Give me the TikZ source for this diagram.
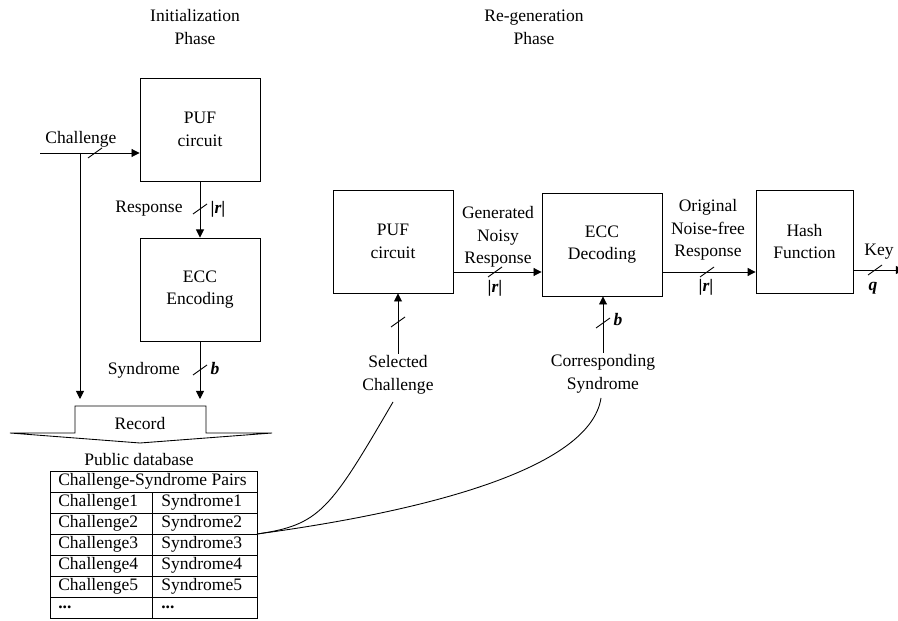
\documentclass[tikz,border=0pt]{standalone}
\usepackage{fontspec}
\setmainfont{Liberation Serif}
\usetikzlibrary{arrows.meta,positioning,calc}
\tikzset{
  unit/.style={draw,line width=0.6pt,minimum width=82.2pt,minimum height=70.6pt,align=center,
               inner sep=2pt},
  flow/.style={line width=0.6pt,-{Triangle[length=5.5pt,width=5.5pt]}},
  wire/.style={line width=0.6pt},
  tag/.style={align=center,inner sep=1pt},
  cell/.style={anchor=west,inner sep=0pt},
}
\newcommand{\buscut}[1]{\draw[wire] (#1) ++(-7,5) -- ++(14,-10);}

\begin{document}
\begin{tikzpicture}[x=0.685pt,y=-0.685pt,font=\fontsize{12}{15.5}\selectfont]
  \useasboundingbox (0,0) rectangle (898,621);
  \node[tag] (ini) at (195,27) {Initialization\\Phase};
  \node[tag] (reg) at (534,27) {Re-generation\\Phase};

  \node[unit] (puf1) at (200,129.5) {PUF\\circuit};
  \node[unit] (enc) at (200,289.5) {ECC\\Encoding};
  \coordinate (chin) at (40,153);
  \coordinate (split) at (80,153);
  \coordinate (recl) at (80,399);
  \coordinate (recr) at (200,399);
  \draw[flow] (chin) -- (chin -| puf1.west);
  \draw[flow] (split) -- (recl);
  \draw[flow] (puf1) -- (enc);
  \draw[flow] (enc) -- (recr);
  \node[tag] (chl) at (81,139) {Challenge};
  \node[tag] (rsp) at (149,209) {Response};
  \node[tag] (rw0) at (218,209) {\textbf{|\textit{r}|}};
  \node[tag] (syn) at (144,370) {Syndrome};
  \node[tag] (bw1) at (215,369) {\textbf{\textit{b}}};
  \buscut{95,153} \buscut{200,209} \buscut{200,370}

  \draw[wire] (75,406) -- (206,406) -- (206,433) -- (272,433) -- (140,443) -- (10,433) -- (75,433) -- cycle;
  \node (rec) at (140,424) {Record};
  \node (pdb) at (139,460) {Public database};

  \draw[wire] (50,471) rectangle (257,618);
  \foreach \y in {492,513,...,597} \draw[wire] (50,\y) -- (257,\y);
  \draw[wire] (152,492) -- (152,618);
  \node[cell] (hdr) at (58,481.5) {Challenge-Syndrome Pairs};
  \foreach \i in {1,...,5} {
    \node[cell] (ch\i) at (58,{492+21*\i-10.5}) {Challenge\i};
    \node[cell] (sy\i) at (161,{492+21*\i-10.5}) {Syndrome\i};
  }
  \node[cell] (chx) at (58,607.5) {\textbf{...}};
  \node[cell] (syx) at (161,607.5) {\textbf{...}};

  \node[unit] (puf2) at (393,241.5) {PUF\\circuit};
  \node[unit] (dec) at (602,244.5) {ECC\\Decoding};
  \node[unit,minimum width=66.4pt] (hash) at (804.5,241.5) {Hash\\Function};
  \coordinate (lvl) at (0,272);
  \coordinate (keyend) at (904,270);
  \draw[flow] (puf2.east |- lvl) -- (dec.west |- lvl);
  \draw[flow] (dec.east |- lvl) -- (hash.west |- lvl);
  \draw[flow] (hash.east |- keyend) -- (keyend);
  \node[tag] (gnr) at (498,237) {Generated\\Noisy\\Response};
  \node[tag] (onr) at (708,230) {Original\\Noise-free\\Response};
  \node[tag] (key) at (879,252) {Key};
  \node[tag] (rw1) at (495,288) {\textbf{|\textit{r}|}};
  \node[tag] (rw2) at (706,287) {\textbf{|\textit{r}|}};
  \node[tag] (qw) at (873,288) {\textbf{\textit{q}}};
  \buscut{495,272} \buscut{707,272} \buscut{875,270}

  \node[tag] (selc) at (398,375) {Selected\\Challenge};
  \node[tag] (corr) at (603,374) {Corresponding\\Syndrome};
  \draw[flow] (selc.north) -- (selc.north |- puf2.south);
  \draw[flow] (corr.north) -- (corr.north |- dec.south);
  \node[tag] (bw2) at (618,320) {\textbf{\textit{b}}};
  \buscut{398,322} \buscut{603,323}

  \coordinate (tab) at (257,534);
  \coordinate (selt) at (393,402);
  \coordinate (cort) at (601,398);
  \draw[wire] (tab) .. controls (320,525) and (330,510) .. (selt);
  \draw[wire] (tab) .. controls (420,512) and (590,470) .. (cort);
\end{tikzpicture}
\end{document}
